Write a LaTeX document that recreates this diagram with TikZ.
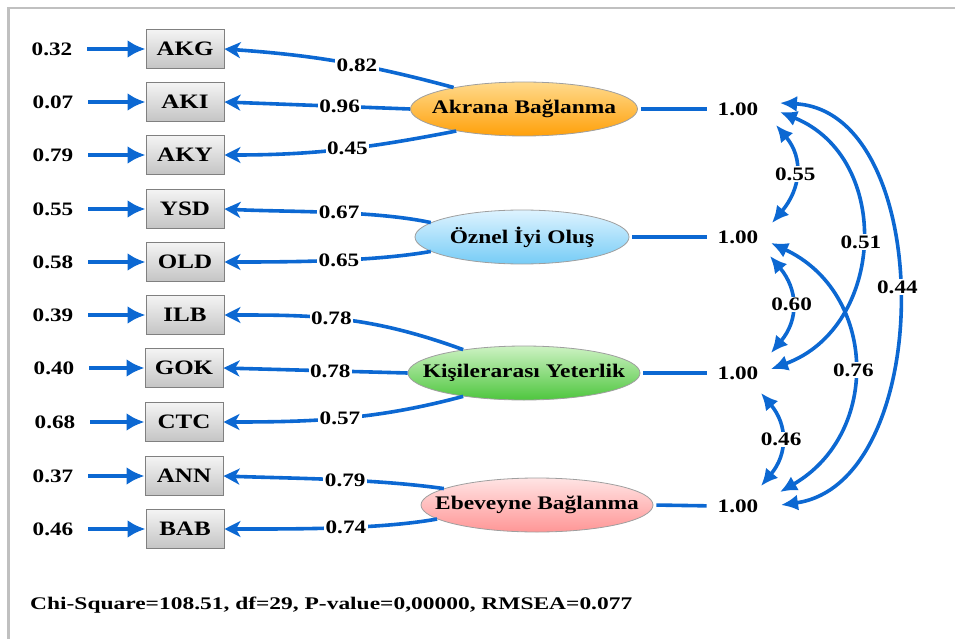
\documentclass[tikz,border=0pt]{standalone}
\usepackage{graphicx}
\usepackage{fontspec}
\setmainfont{Liberation Serif}
\newfontfamily\lf{Liberation Serif}[FakeStretch=1.22]
\usetikzlibrary{shapes.geometric,arrows.meta,calc}
\definecolor{arrblue}{RGB}{12,104,210}
\definecolor{framegray}{RGB}{192,192,192}
\definecolor{boxtop}{RGB}{244,244,244}
\definecolor{boxbot}{RGB}{196,196,196}
\definecolor{boxborder}{RGB}{128,128,128}
\definecolor{ortop}{RGB}{255,218,140}
\definecolor{orbot}{RGB}{255,160,10}
\definecolor{bltop}{RGB}{222,243,255}
\definecolor{blbot}{RGB}{118,204,246}
\definecolor{grtop}{RGB}{205,242,195}
\definecolor{grbot}{RGB}{78,198,62}
\definecolor{pktop}{RGB}{255,228,228}
\definecolor{pkbot}{RGB}{255,150,150}
\newcommand{\ctext}[1]{\makebox[0pt]{#1}}
\begin{document}
\begin{tikzpicture}[x=1pt,y=1pt,
  num/.style={font=\lf\bfseries\fontsize{19}{19}\selectfont, inner sep=1pt},
  lab/.style={num, fill=white, inner sep=1.5pt},
  obs/.style={draw=boxborder, line width=1pt, top color=boxtop, bottom color=boxbot,
    minimum width=78pt, minimum height=39pt, inner sep=0pt,
    font=\lf\bfseries\fontsize{20.5}{20.5}\selectfont},
  lat/.style={ellipse, draw=gray!75, line width=0.8pt, inner sep=0pt, minimum height=54pt,
    font=\lf\bfseries\fontsize{19.2}{19.2}\selectfont},
  conn/.style={draw=arrblue, line width=3.6pt},
  err/.style={conn, -{Latex[length=18pt,width=18pt]}, shorten <=14pt},
  load/.style={conn, -{Stealth[length=16pt,width=16pt,inset=4.5pt]}},
  cov/.style={conn, {Latex[length=17pt,width=16pt]}-{Latex[length=17pt,width=16pt]}},
]
\useasboundingbox (0,0) rectangle (955,-639);
\draw[framegray, line width=2.2pt] (8.5,-640) -- (8.5,-8) -- (956,-8);

% observed variables
\node[obs] (akg) at (185,-49)  {AKG};
\node[obs] (aki) at (185,-102) {AKI};
\node[obs] (aky) at (185,-155) {AKY};
\node[obs] (ysd) at (185,-209) {YSD};
\node[obs] (old) at (185,-262) {OLD};
\node[obs] (ilb) at (185,-315) {ILB};
\node[obs] (gok) at (184,-368) {GOK};
\node[obs] (ctc) at (184,-422) {CTC};
\node[obs] (ann) at (184,-476) {ANN};
\node[obs] (bab) at (185,-529) {BAB};

% error terms
\node[num] (e1)  at (52,-49)  {0.32};
\node[num] (e2)  at (53,-102) {0.07};
\node[num] (e3)  at (53,-155) {0.79};
\node[num] (e4)  at (53,-209) {0.55};
\node[num] (e5)  at (53,-262) {0.58};
\node[num] (e6)  at (53,-315) {0.39};
\node[num] (e7)  at (54,-368) {0.40};
\node[num] (e8)  at (55,-422) {0.68};
\node[num] (e9)  at (53,-476) {0.37};
\node[num] (e10) at (53,-529) {0.46};
\foreach \e/\b in {e1/akg,e2/aki,e3/aky,e4/ysd,e5/old,e6/ilb,e7/gok,e8/ctc,e9/ann,e10/bab}
  \draw[err] (\e.east) -- (\b.west);

% latent variables
\node[lat, minimum width=227pt, top color=ortop, bottom color=orbot] (ak) at (524,-109) {\ctext{Akrana Bağlanma}};
\node[lat, minimum width=214pt, top color=bltop, bottom color=blbot] (oz) at (522,-237) {\ctext{Öznel İyi Oluş}};
\node[lat, minimum width=232pt, top color=grtop, bottom color=grbot] (ki) at (524,-373) {\ctext{Kişilerarası Yeterlik}};
\node[lat, minimum width=232pt, top color=pktop, bottom color=pkbot] (eb) at (537,-505) {\ctext{Ebeveyne Bağlanma}};

% loadings
\draw[load] (ak.163) .. controls +(165:90) and +(-4:90) .. node[lab,pos=0.42]{0.82} (akg.east);
\draw[load] (ak.180) -- node[lab,pos=0.38]{0.96} (aki.east);
\draw[load] (ak.198) .. controls +(191:90) and +(0:90) .. node[lab,pos=0.47]{0.45} (aky.east);
\draw[load] (oz.171) .. controls +(168:60) and +(-3:60) .. node[lab,pos=0.45]{0.67} (ysd.east);
\draw[load] (oz.189) .. controls +(190:60) and +(0:60) .. node[lab,pos=0.45]{0.65} (old.east);
\draw[load] (ki.159) .. controls +(160:100) and +(0:90) .. node[lab,pos=0.55]{0.78} (ilb.east);
\draw[load] (ki.180) -- node[lab,pos=0.42]{0.78} (gok.east);
\draw[load] (ki.201) .. controls +(195:90) and +(0:90) .. node[lab,pos=0.52]{0.57} (ctc.east);
\draw[load] (eb.170) .. controls +(172:70) and +(-2:70) .. node[lab,pos=0.45]{0.79} (ann.east);
\draw[load] (eb.188) .. controls +(190:60) and +(0:70) .. node[lab,pos=0.45]{0.74} (bab.east);

% variances
\node[num] (v1) at (738,-109) {1.00};
\node[num] (v2) at (738,-237) {1.00};
\node[num] (v3) at (738,-373) {1.00};
\node[num] (v4) at (738,-506) {1.00};
\foreach \l/\v in {ak/v1,oz/v2,ki/v3,eb/v4}
  \draw[conn, shorten <=3pt, shorten >=10pt] (\l.east) -- (\v.west);

% covariance end points
\coordinate (t1a) at (780,-103);
\coordinate (t1b) at (780,-112);
\coordinate (t1c) at (776,-125);
\coordinate (t2a) at (772,-223);
\coordinate (t2b) at (771,-243);
\coordinate (t2c) at (770,-256);
\coordinate (t3a) at (771,-353);
\coordinate (t3b) at (771,-369);
\coordinate (t3c) at (761,-393);
\coordinate (t4a) at (761,-486);
\coordinate (t4b) at (780,-492);
\coordinate (t4c) at (781,-505);

\draw[cov] (t1c) to[out=-50,in=50,looseness=1.15] node[lab]{0.55} (t2a);
\draw[cov] (t2c) to[out=-50,in=50,looseness=1.15] node[lab]{0.60} (t3a);
\draw[cov] (t3c) to[out=-50,in=50,looseness=1.15] node[lab]{0.46} (t4a);
\draw[cov] (t1b) .. controls +(-22:122) and +(20:122) .. node[lab]{0.51} (t3b);
\draw[cov] (t2b) .. controls +(-25:117) and +(30:117) .. node[lab,pos=0.52]{0.76} (t4b);
\draw[cov] (t1a) .. controls +(-3:157) and +(8:157) .. node[lab,pos=0.48]{0.44} (t4c);

% fit statistics
\node[anchor=base west, inner sep=0pt] (fit) at (30,-609)
  {\resizebox{602pt}{12.5pt}{\bfseries Chi-Square=108.51, df=29, P-value=0,00000, RMSEA=0.077}};
\end{tikzpicture}
\end{document}
